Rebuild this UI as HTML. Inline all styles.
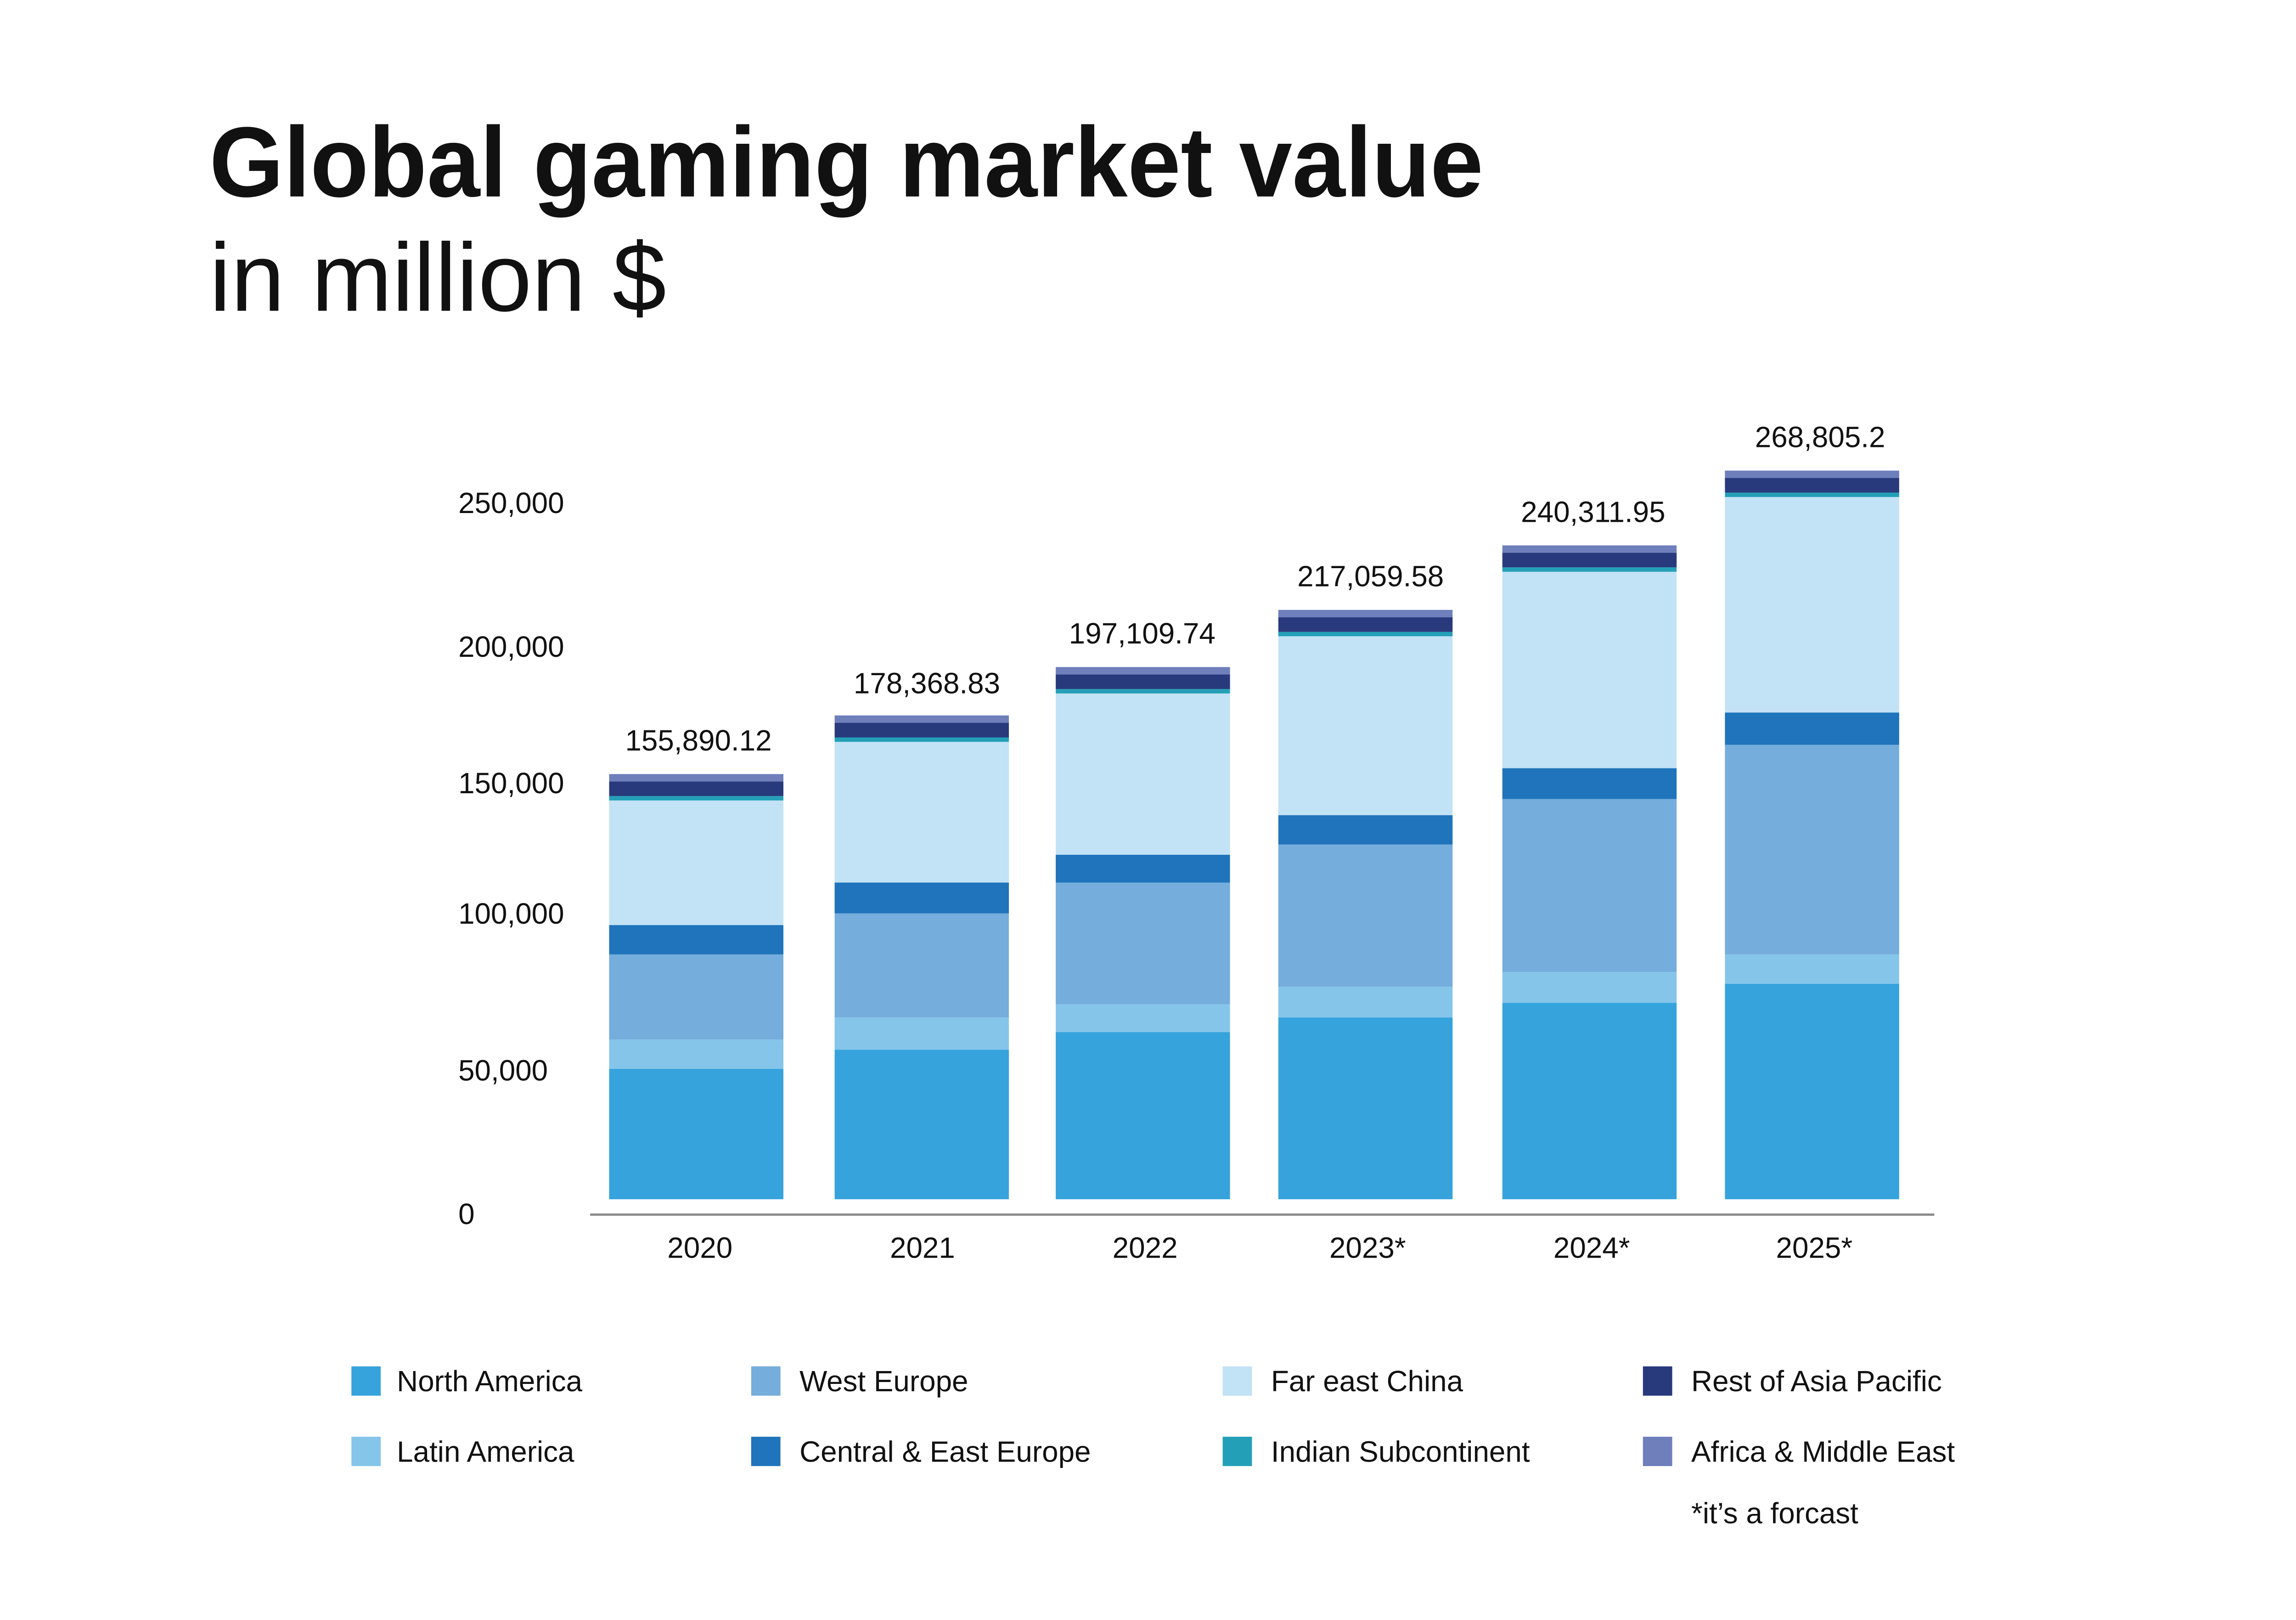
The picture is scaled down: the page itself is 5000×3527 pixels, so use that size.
<!DOCTYPE html>
<html><head><meta charset="utf-8"><style>
html,body{margin:0;padding:0;background:#fff}
svg{display:block}
text{font-family:"Liberation Sans",sans-serif;fill:#111}
</style></head><body>
<svg width="5000" height="3527" viewBox="0 0 1568 1105" preserveAspectRatio="none" xmlns="http://www.w3.org/2000/svg">
<rect width="1568" height="1105" fill="#fff"/>
<text x="143" y="134" font-size="68" font-weight="bold" textLength="870" lengthAdjust="spacingAndGlyphs" fill="#000">Global gaming market value</text>
<text x="143" y="212" font-size="66" textLength="312" lengthAdjust="spacingAndGlyphs" fill="#000">in million $</text>

<g font-size="20">
<text x="313" y="350">250,000</text>
<text x="313" y="448">200,000</text>
<text x="313" y="541">150,000</text>
<text x="313" y="630">100,000</text>
<text x="313" y="737">50,000</text>
<text x="313" y="835">0</text>
</g>

<g id="bars">
<g transform="translate(416,0)">
<rect y="729" width="119" height="89" fill="#36a3dc"/><rect y="709" width="119" height="20" fill="#85c5ea"/><rect y="651" width="119" height="58" fill="#75addc"/><rect y="631" width="119" height="20" fill="#1f74bb"/><rect y="546" width="119" height="85" fill="#c2e2f5"/><rect y="543" width="119" height="3" fill="#23a0b8"/><rect y="533" width="119" height="10" fill="#283a7c"/><rect y="528" width="119" height="5" fill="#6e7fbb"/>
</g>
<g transform="translate(570,0)">
<rect y="716" width="119" height="102" fill="#36a3dc"/><rect y="694" width="119" height="22" fill="#85c5ea"/><rect y="623" width="119" height="71" fill="#75addc"/><rect y="602" width="119" height="21" fill="#1f74bb"/><rect y="506" width="119" height="96" fill="#c2e2f5"/><rect y="503" width="119" height="3" fill="#23a0b8"/><rect y="493" width="119" height="10" fill="#283a7c"/><rect y="488" width="119" height="5" fill="#6e7fbb"/>
</g>
<g transform="translate(721,0)">
<rect y="704" width="119" height="114" fill="#36a3dc"/><rect y="685" width="119" height="19" fill="#85c5ea"/><rect y="602" width="119" height="83" fill="#75addc"/><rect y="583" width="119" height="19" fill="#1f74bb"/><rect y="473" width="119" height="110" fill="#c2e2f5"/><rect y="470" width="119" height="3" fill="#23a0b8"/><rect y="460" width="119" height="10" fill="#283a7c"/><rect y="455" width="119" height="5" fill="#6e7fbb"/>
</g>
<g transform="translate(873,0)">
<rect y="694" width="119" height="124" fill="#36a3dc"/><rect y="673" width="119" height="21" fill="#85c5ea"/><rect y="576" width="119" height="97" fill="#75addc"/><rect y="556" width="119" height="20" fill="#1f74bb"/><rect y="434" width="119" height="122" fill="#c2e2f5"/><rect y="431" width="119" height="3" fill="#23a0b8"/><rect y="421" width="119" height="10" fill="#283a7c"/><rect y="416" width="119" height="5" fill="#6e7fbb"/>
</g>
<g transform="translate(1026,0)">
<rect y="684" width="119" height="134" fill="#36a3dc"/><rect y="663" width="119" height="21" fill="#85c5ea"/><rect y="545" width="119" height="118" fill="#75addc"/><rect y="524" width="119" height="21" fill="#1f74bb"/><rect y="390" width="119" height="134" fill="#c2e2f5"/><rect y="387" width="119" height="3" fill="#23a0b8"/><rect y="377" width="119" height="10" fill="#283a7c"/><rect y="372" width="119" height="5" fill="#6e7fbb"/>
</g>
<g transform="translate(1178,0)">
<rect y="671" width="119" height="147" fill="#36a3dc"/><rect y="651" width="119" height="20" fill="#85c5ea"/><rect y="508" width="119" height="143" fill="#75addc"/><rect y="486" width="119" height="22" fill="#1f74bb"/><rect y="339" width="119" height="147" fill="#c2e2f5"/><rect y="336" width="119" height="3" fill="#23a0b8"/><rect y="326" width="119" height="10" fill="#283a7c"/><rect y="321" width="119" height="5" fill="#6e7fbb"/>
</g>
</g>

<g font-size="20" text-anchor="middle">
<text x="477" y="512">155,890.12</text>
<text x="633" y="473">178,368.83</text>
<text x="780" y="439">197,109.74</text>
<text x="936" y="400">217,059.58</text>
<text x="1088" y="356">240,311.95</text>
<text x="1243" y="305">268,805.2</text>
</g>

<line x1="403" y1="828.5" x2="1321" y2="828.5" stroke="#888" stroke-width="1.5"/>
<g font-size="20" text-anchor="middle">
<text x="478" y="858">2020</text>
<text x="630" y="858">2021</text>
<text x="782" y="858">2022</text>
<text x="934" y="858">2023*</text>
<text x="1087" y="858">2024*</text>
<text x="1239" y="858">2025*</text>
</g>

<g font-size="20">
<rect x="240" y="932" width="20" height="20" fill="#36a3dc"/><text x="271" y="949">North America</text>
<rect x="513" y="932" width="20" height="20" fill="#75addc"/><text x="546" y="949">West Europe</text>
<rect x="835" y="932" width="20" height="20" fill="#c2e2f5"/><text x="868" y="949">Far east China</text>
<rect x="1122" y="932" width="20" height="20" fill="#283a7c"/><text x="1155" y="949">Rest of Asia Pacific</text>
<rect x="240" y="980" width="20" height="20" fill="#85c5ea"/><text x="271" y="997">Latin America</text>
<rect x="513" y="980" width="20" height="20" fill="#1f74bb"/><text x="546" y="997">Central &amp; East Europe</text>
<rect x="835" y="980" width="20" height="20" fill="#23a0b8"/><text x="868" y="997">Indian Subcontinent</text>
<rect x="1122" y="980" width="20" height="20" fill="#6e7fbb"/><text x="1155" y="997">Africa &amp; Middle East</text>
<text x="1155" y="1039">*it’s a forcast</text>
</g>
</svg>
</body></html>
